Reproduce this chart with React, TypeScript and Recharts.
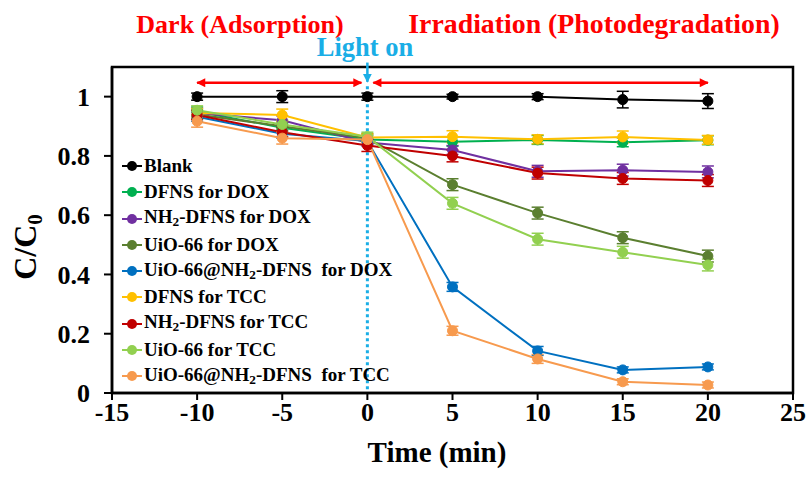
import {
  LineChart,
  Line,
  XAxis,
  YAxis,
  ErrorBar,
  Legend,
  ReferenceLine,
  ReferenceArea,
} from 'recharts';

const FONT = "'Liberation Serif', 'Times New Roman', serif";

// Sampling times (min); negative = dark adsorption stage, light switched on at 0
const TIMES = [-10, -5, 0, 5, 10, 15, 20];
const X_TICKS = [-15, -10, -5, 0, 5, 10, 15, 20, 25];
const Y_TICKS = [0, 0.2, 0.4, 0.6, 0.8, 1];

// C/C0 for each sample
const BLANK = [1.0, 1.0, 1.0, 1.0, 1.0, 0.99, 0.985];
const DFNS_DOX = [0.95, 0.895, 0.855, 0.848, 0.854, 0.846, 0.853];
const NH2_DFNS_DOX = [0.945, 0.92, 0.845, 0.82, 0.748, 0.752, 0.746];
const UIO_DOX = [0.94, 0.9, 0.86, 0.703, 0.607, 0.524, 0.462];
const UIO_NH2_DOX = [0.932, 0.875, 0.85, 0.358, 0.142, 0.078, 0.088];
const DFNS_TCC = [0.945, 0.938, 0.862, 0.865, 0.856, 0.864, 0.854];
const NH2_DFNS_TCC = [0.938, 0.88, 0.835, 0.8, 0.742, 0.724, 0.717];
const UIO_TCC = [0.954, 0.906, 0.865, 0.64, 0.519, 0.475, 0.432];
const UIO_NH2_TCC = [0.917, 0.86, 0.855, 0.21, 0.115, 0.038, 0.027];

// standard deviations (±)
const BLANK_ERR = [0.012, 0.02, 0.012, 0.008, 0.01, 0.028, 0.025];
const DFNS_DOX_ERR = [0.015, 0.015, 0.015, 0.015, 0.015, 0.015, 0.015];
const NH2_DFNS_DOX_ERR = [0.015, 0.015, 0.012, 0.015, 0.02, 0.02, 0.02];
const UIO_DOX_ERR = [0.015, 0.015, 0.015, 0.02, 0.02, 0.02, 0.02];
const UIO_NH2_DOX_ERR = [0.015, 0.015, 0.012, 0.015, 0.015, 0.01, 0.01];
const DFNS_TCC_ERR = [0.015, 0.02, 0.012, 0.02, 0.015, 0.02, 0.015];
const NH2_DFNS_TCC_ERR = [0.015, 0.015, 0.02, 0.02, 0.02, 0.02, 0.02];
const UIO_TCC_ERR = [0.015, 0.015, 0.015, 0.02, 0.02, 0.02, 0.02];
const UIO_NH2_TCC_ERR = [0.02, 0.02, 0.012, 0.015, 0.015, 0.01, 0.01];

const SERIES = [
  { key: 'blank', name: 'Blank', color: '#000000', values: BLANK, errors: BLANK_ERR },
  { key: 'dfnsDox', name: 'DFNS for DOX', color: '#00B050', values: DFNS_DOX, errors: DFNS_DOX_ERR },
  { key: 'nh2Dox', name: 'NH2-DFNS for DOX', color: '#7030A0', values: NH2_DFNS_DOX, errors: NH2_DFNS_DOX_ERR },
  { key: 'uioDox', name: 'UiO-66 for DOX', color: '#5B7F30', values: UIO_DOX, errors: UIO_DOX_ERR },
  { key: 'uioNh2Dox', name: 'UiO-66@NH2-DFNS  for DOX', color: '#0070C0', values: UIO_NH2_DOX, errors: UIO_NH2_DOX_ERR },
  { key: 'dfnsTcc', name: 'DFNS for TCC', color: '#FFC000', values: DFNS_TCC, errors: DFNS_TCC_ERR },
  { key: 'nh2Tcc', name: 'NH2-DFNS for TCC', color: '#C00000', values: NH2_DFNS_TCC, errors: NH2_DFNS_TCC_ERR },
  { key: 'uioTcc', name: 'UiO-66 for TCC', color: '#92D050', values: UIO_TCC, errors: UIO_TCC_ERR },
  { key: 'uioNh2Tcc', name: 'UiO-66@NH2-DFNS  for TCC', color: '#F79A4E', values: UIO_NH2_TCC, errors: UIO_NH2_TCC_ERR },
];

const SERIES_ORDER = SERIES.map((s) => s.name);

const rows = TIMES.map((t, i) => {
  const row: Record<string, number> = { t };
  SERIES.forEach((s) => {
    row[s.key] = s.values[i];
    row[`${s.key}Err`] = s.errors[i];
  });
  return row;
});

// "NH2" -> NH₂ with a real subscript
function withSubscript(label: string) {
  const parts = label.split('NH2');
  return parts.map((part, i) => (
    <span key={i}>
      {i > 0 && (
        <>
          NH<sub style={{ fontSize: '0.7em', verticalAlign: '-0.25em' }}>2</sub>
        </>
      )}
      {part}
    </span>
  ));
}

function renderLegend(props: any) {
  // keep the legend in the same order the series are drawn
  const payload = [...(props.payload ?? [])].sort(
    (a: any, b: any) => SERIES_ORDER.indexOf(a.value) - SERIES_ORDER.indexOf(b.value),
  );
  return (
    <div style={{ fontFamily: FONT, fontWeight: 'bold', fontSize: 19, color: '#000' }}>
      {payload.map((entry: any) => (
        <div
          key={entry.value}
          style={{ display: 'flex', alignItems: 'center', height: 26.25, whiteSpace: 'pre' }}
        >
          <svg width={22} height={12} style={{ marginRight: 1 }}>
            <line x1={1} y1={6} x2={21} y2={6} stroke={entry.color} strokeWidth={2} />
            <circle cx={11} cy={6} r={5} fill={entry.color} />
          </svg>
          <span>{withSubscript(entry.value)}</span>
        </div>
      ))}
    </div>
  );
}

const tickStyle = { fontFamily: FONT, fontWeight: 'bold', fontSize: 26, fill: '#000' };

export default function App() {
  return (
    <div style={{ width: 808, height: 477, background: '#fff' }}>
      <style>{'body{margin:0}'}</style>
      <LineChart
        width={808}
        height={477}
        data={rows}
        margin={{ top: 67, right: 15, bottom: 0, left: 0 }}
      >
        <defs>
          <marker
            id="arrowRed"
            viewBox="0 0 10 10"
            refX="9"
            refY="5"
            markerWidth="4"
            markerHeight="3.6"
            orient="auto-start-reverse"
          >
            <path d="M0,0 L10,5 L0,10 z" fill="#FF0000" />
          </marker>
          <marker
            id="arrowCyan"
            viewBox="0 0 10 10"
            refX="9"
            refY="5"
            markerWidth="3.6"
            markerHeight="3.6"
            orient="auto"
          >
            <path d="M0,0 L10,5 L0,10 z" fill="#1AAEE6" />
          </marker>
        </defs>

        <text x={240} y={33} textAnchor="middle" fontFamily={FONT} fontWeight="bold" fontSize={26} fill="#FF0000">
          Dark (Adsorption)
        </text>
        <text x={594} y={33} textAnchor="middle" fontFamily={FONT} fontWeight="bold" fontSize={27.8} fill="#FF0000">
          Irradiation (Photodegradation)
        </text>
        <text x={365} y={56} textAnchor="middle" fontFamily={FONT} fontWeight="bold" fontSize={26.5} fill="#1AAEE6">
          Light on
        </text>
        <text x={437} y={462} textAnchor="middle" fontFamily={FONT} fontWeight="bold" fontSize={29} fill="#000">
          Time (min)
        </text>
        <text
          x={36}
          y={247}
          transform="rotate(-90 36 247)"
          textAnchor="middle"
          fontFamily={FONT}
          fontWeight="bold"
          fontSize={32}
          fill="#000"
        >
          C/C<tspan fontSize={21} dy={6}>0</tspan>
        </text>

        <XAxis
          dataKey="t"
          type="number"
          domain={[-15, 25]}
          ticks={X_TICKS}
          height={84}
          tickSize={7}
          tickMargin={3}
          tick={tickStyle}
          axisLine={{ stroke: '#000', strokeWidth: 2.5 }}
          tickLine={{ stroke: '#000', strokeWidth: 2 }}
          interval={0}
        />
        <YAxis
          type="number"
          domain={[0, 1.1]}
          ticks={Y_TICKS}
          width={112}
          tickSize={8}
          tickMargin={14}
          tick={tickStyle}
          axisLine={{ stroke: '#000', strokeWidth: 2.5 }}
          tickLine={{ stroke: '#000', strokeWidth: 2 }}
          interval={0}
          allowDataOverflow
        />

        <ReferenceArea
          x1={-15}
          x2={25}
          y1={0}
          y2={1.1}
          fill="none"
          fillOpacity={0}
          stroke="#000"
          strokeWidth={2.5}
          ifOverflow="visible"
        />

        {/* phase arrows */}
        <ReferenceLine
          segment={[{ x: -10, y: 1.047 }, { x: -0.35, y: 1.047 }]}
          stroke="#FF0000"
          strokeWidth={2.5}
          markerStart="url(#arrowRed)"
          markerEnd="url(#arrowRed)"
          ifOverflow="visible"
        />
        <ReferenceLine
          segment={[{ x: 0.35, y: 1.047 }, { x: 20, y: 1.047 }]}
          stroke="#FF0000"
          strokeWidth={2.5}
          markerStart="url(#arrowRed)"
          markerEnd="url(#arrowRed)"
          ifOverflow="visible"
        />
        {/* light switched on */}
        <ReferenceLine
          segment={[{ x: 0, y: 1.115 }, { x: 0, y: 1.05 }]}
          stroke="#1AAEE6"
          strokeWidth={2.5}
          markerEnd="url(#arrowCyan)"
          ifOverflow="visible"
        />
        <ReferenceLine
          segment={[{ x: 0, y: 1.035 }, { x: 0, y: 0 }]}
          stroke="#1AAEE6"
          strokeWidth={3}
          strokeDasharray="3 3"
          ifOverflow="visible"
        />

        {SERIES.map((s) => (
          <Line
            key={s.key}
            type="linear"
            dataKey={s.key}
            name={s.name}
            stroke={s.color}
            strokeWidth={2}
            dot={{ r: 5, fill: s.color, stroke: s.color, strokeWidth: 1 }}
            activeDot={false}
            isAnimationActive={false}
          >
            <ErrorBar
              dataKey={`${s.key}Err`}
              direction="y"
              width={6}
              stroke={s.color}
              strokeWidth={1.5}
              isAnimationActive={false}
            />
          </Line>
        ))}

        <Legend
          layout="vertical"
          align="center"
          verticalAlign="middle"
          content={renderLegend}
          wrapperStyle={{ left: 121, top: 153, width: 300 }}
        />
      </LineChart>
    </div>
  );
}
